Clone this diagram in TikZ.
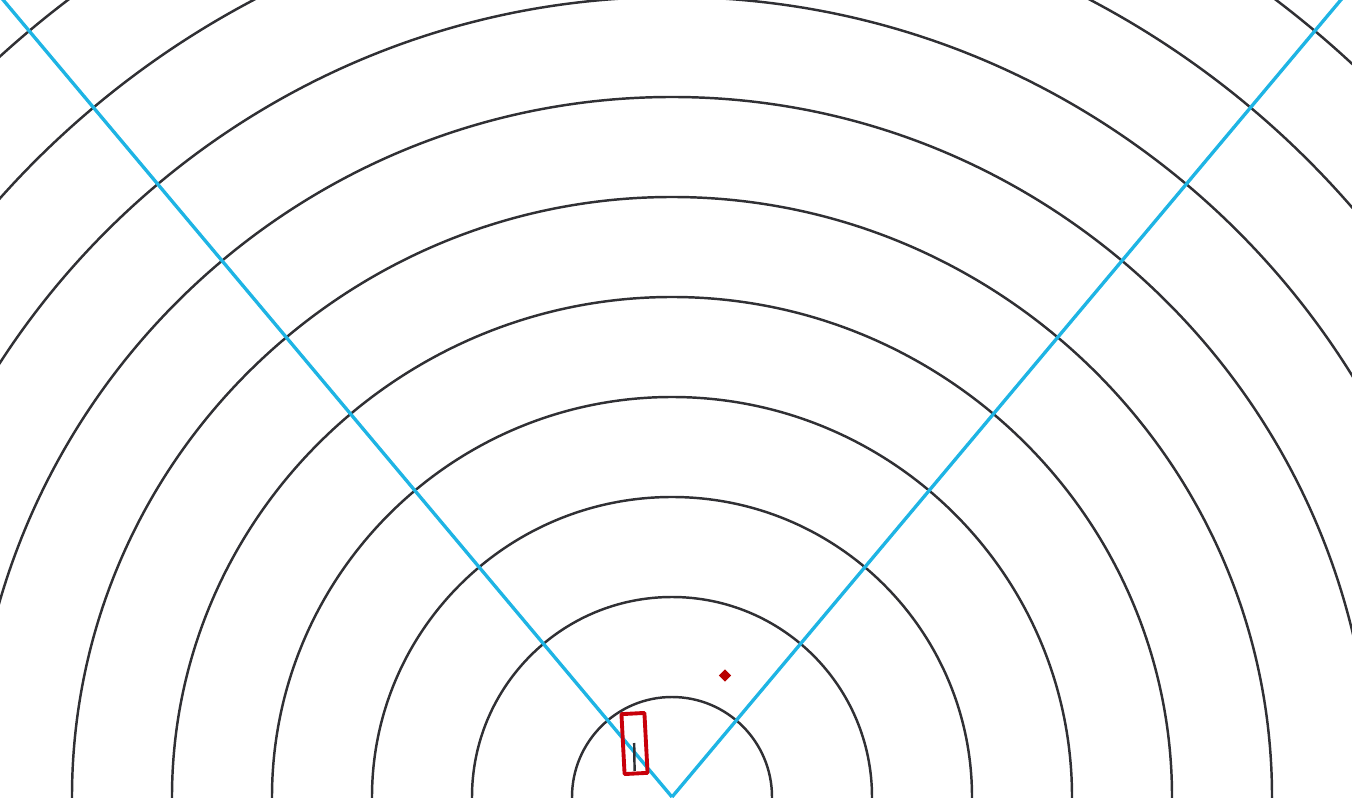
\documentclass[tikz,border=0pt]{standalone}
\usetikzlibrary{shapes.geometric}
\begin{document}
\begin{tikzpicture}[x=1cm,y=1cm,
  ring/.style={draw={rgb,255:red,48;green,48;blue,52}, line width=0.7pt},
  ray/.style={draw={rgb,255:red,30;green,180;blue,228}, line width=0.95pt},
  body/.style={draw={rgb,255:red,200;green,0;blue,10}, line width=1.1pt, line join=round},
  dot/.style={fill={rgb,255:red,185;green,0;blue,0}, draw=none}]
\useasboundingbox (-6.72,0) rectangle (6.80,7.97);
\clip (-6.72,0) rectangle (6.80,7.97);
\coordinate (O) at (0,0);
\foreach \r in {1,...,11} \draw[ring] (O) circle (\r);
\draw[ray] (O) -- (130:12);
\draw[ray] (O) -- (50:12);
\begin{scope}[shift={(-0.375,0.535)}, rotate=3]
  \draw[body] (-0.115,-0.3) rectangle (0.115,0.3);
\end{scope}
\coordinate (s1) at (-0.378,0.54);
\coordinate (s2) at (-0.374,0.26);
\draw[ring, line width=0.7pt] (s1) -- (s2);
\node[dot, diamond, minimum size=0.13cm, inner sep=0pt, shape aspect=1] (d) at (0.53,1.215) {};
\end{tikzpicture}
\end{document}
